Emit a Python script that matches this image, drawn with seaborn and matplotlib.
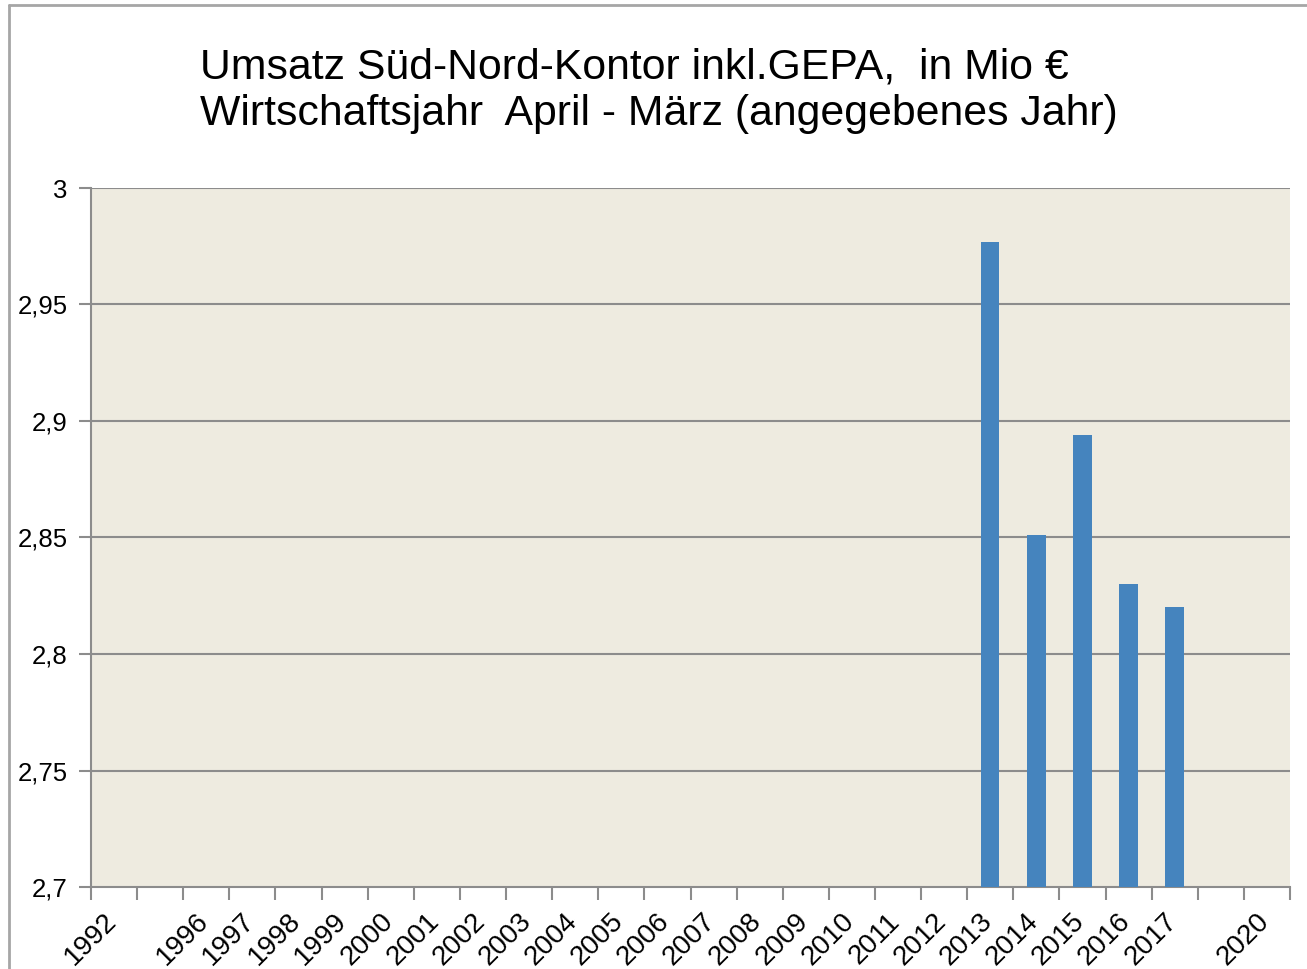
import numpy as np
import pandas as pd
import matplotlib.pyplot as plt
import matplotlib.transforms as mtransforms
from matplotlib.lines import Line2D
import seaborn as sns

# x slots as in the original sheet (two empty slots)
year_labels = ['1992', '', '1996', '1997', '1998', '1999', '2000', '2001', '2002',
               '2003', '2004', '2005', '2006', '2007', '2008', '2009', '2010',
               '2011', '2012', '2013', '2014', '2015', '2016', '2017', '', '2020']
umsatz = [np.nan] * 19 + [2.977, 2.851, 2.894, 2.830, 2.820] + [np.nan, np.nan]
y_ticks = [2.7, 2.75, 2.8, 2.85, 2.9, 2.95, 3.0]

df = pd.DataFrame({'slot': range(len(year_labels)), 'umsatz': umsatz})

sns.set_style('white')
plt.rcParams['font.family'] = ['Liberation Sans', 'DejaVu Sans']
plt.rcParams['text.color'] = 'black'
plt.rcParams['xtick.color'] = 'black'
plt.rcParams['ytick.color'] = 'black'

fig = plt.figure(figsize=(13.07, 9.69), dpi=100)
ax = fig.add_axes([91/1307, 1-887/969, (1290-91)/1307, (887-188)/969])
ax.set_facecolor('#EEEBE0')

sns.barplot(data=df, x='slot', y='umsatz', order=list(range(len(year_labels))),
            color='#4584BE', saturation=1, width=0.4, linewidth=0, ax=ax, zorder=3)

ax.set_ylim(2.7, 3.0)
ax.set_xlim(-0.5, len(year_labels) - 0.5)
ax.set_yticks(y_ticks)
ax.set_yticklabels([('%g' % v).replace('.', ',') for v in y_ticks], fontsize=18.5)
ax.set_xticks(range(len(year_labels)))
ax.set_xticklabels(year_labels, rotation=45, ha='right', rotation_mode='anchor', fontsize=20)
ax.set_xticks(np.arange(-0.5, len(year_labels)), minor=True)
ax.tick_params(axis='x', which='major', bottom=True, length=0, pad=14, labelcolor='black')
ax.tick_params(axis='x', which='minor', bottom=True, length=9, width=1.5,
               color='#8C8C8C', direction='out')
ax.tick_params(axis='y', left=True, length=9, width=1.5, color='#8C8C8C',
               direction='out', pad=8, labelcolor='black')
ax.set_xlabel('')
ax.set_ylabel('')

# nudge the slanted year labels a bit left
shift = mtransforms.ScaledTranslation(-11/100, -2/100, fig.dpi_scale_trans)
for lab in ax.get_xticklabels():
    lab.set_transform(lab.get_transform() + shift)

for v in y_ticks[1:]:
    ax.axhline(v, color='#8C8C8C', lw=1.5, zorder=1)
for side in ['top', 'right']:
    ax.spines[side].set_visible(False)
for side in ['left', 'bottom']:
    ax.spines[side].set_color('#8C8C8C')
    ax.spines[side].set_linewidth(1.5)

fig.text(200/1307, 1 - 68/969, 'Umsatz Süd-Nord-Kontor inkl.GEPA,  in Mio €',
         ha='left', va='center', fontsize=30.8)
fig.text(200/1307, 1 - 114/969, 'Wirtschaftsjahr  April - März (angegebenes Jahr)',
         ha='left', va='center', fontsize=30.8)

# chart frame (left and top edges)
fig.add_artist(Line2D([9/1307, 9/1307], [0, 1 - 5/969], color='#A6A6A6', lw=2))
fig.add_artist(Line2D([9/1307, 1], [1 - 5/969, 1 - 5/969], color='#A6A6A6', lw=2))

fig.savefig('out.png', dpi=100)
